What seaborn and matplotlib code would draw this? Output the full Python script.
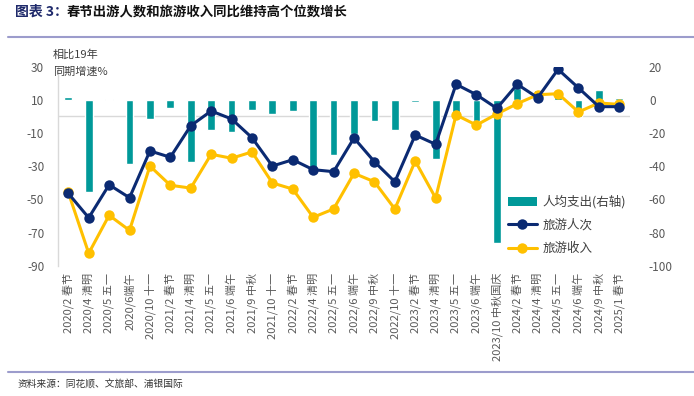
import matplotlib
matplotlib.use("Agg")
import matplotlib.pyplot as plt
import seaborn as sns
import pandas as pd
import numpy as np
from matplotlib.patches import Patch
from matplotlib.lines import Line2D

sns.set_theme(style="white")
plt.rcParams['font.family'] = ['Noto Sans CJK SC', 'DejaVu Sans']

categories = ["2020/2 春节", "2020/4 清明", "2020/5 五一", "2020/6端午", "2020/10 十一",
              "2021/2 春节", "2021/4 清明", "2021/5 五一", "2021/6 端午", "2021/9 中秋",
              "2021/10 十一", "2022/2 春节", "2022/4 清明", "2022/5 五一", "2022/6 端午",
              "2022/9 中秋", "2022/10 十一", "2023/2 春节", "2023/4 清明", "2023/5 五一",
              "2023/6 端午", "2023/10 中秋国庆", "2024/2 春节", "2024/4 清明", "2024/5 五一",
              "2024/6 端午", "2024/9 中秋", "2025/1 春节"]

spend_per_capita = [1.5, -55.3, 0.8, -38.4, -11.7, -5.0, -37.6, -18.3, -19.3, -6.4,
                    -8.8, -7.0, -42.0, -33.0, -20.5, -13.0, -18.0, -1.4, -35.6, -8.0,
                    -13.0, -86.5, 7.0, 6.0, 3.0, -10.5, 6.0, 1.4]

tourist_trips = [-46.4, -61.1, -41.2, -49.0, -20.8, -24.6, -5.6, 3.3, -1.5, -12.8,
                 -29.9, -26.1, -32.1, -33.3, -13.0, -27.3, -39.4, -11.2, -16.8, 19.4,
                 13.1, 4.9, 19.4, 11.3, 28.4, 17.2, 5.9, 5.9]

tourist_revenue = [-45.8, -82.5, -59.6, -68.7, -29.9, -41.5, -43.2, -22.8, -25.2, -21.4,
                   -40.1, -43.8, -60.8, -55.8, -34.3, -39.4, -55.8, -26.9, -49.2, 0.9,
                   -5.2, 1.5, 7.7, 13.1, 13.7, 2.7, 8.1, 7.3]

left_ticks = [30, 10, -10, -30, -50, -70, -90]
right_ticks = [20, 0, -20, -40, -60, -80, -100]

TEAL = "#009999"
NAVY = "#0b2a72"
GOLD = "#ffc000"
GRAY = "#595959"

df = pd.DataFrame({"idx": np.arange(len(categories)),
                   "spend": spend_per_capita,
                   "trips": tourist_trips,
                   "revenue": tourist_revenue})

fig = plt.figure(figsize=(6.94, 3.96), dpi=100)
ax = fig.add_axes([58.1 / 694, 1 - 265.7 / 396, 571.4 / 694, 199 / 396])
ax2 = ax.twinx()

# bars on right-scale axis (drawn underneath)
ax.axhline(-10, color="#d9d9d9", lw=1, zorder=0)
sns.barplot(data=df, x="idx", y="spend", color=TEAL, width=0.38, saturation=1,
            ax=ax, zorder=2)
ax.set_ylim(-100, 20)

# lines on left-scale axis
sns.lineplot(data=df, x="idx", y="trips", color=NAVY, lw=2.2, marker="o",
             markersize=7.5, markeredgewidth=0, ax=ax2, zorder=4)
sns.lineplot(data=df, x="idx", y="revenue", color=GOLD, lw=2.2, marker="o",
             markersize=7.5, markeredgewidth=0, ax=ax2, zorder=3)
ax2.set_ylim(-90, 30)

# axis placement: bars' scale on the right, lines' scale on the left
ax.yaxis.tick_right()
ax2.yaxis.tick_left()
ax.set_yticks(right_ticks)
ax.set_yticklabels([str(t) for t in right_ticks])
ax2.set_yticks(left_ticks)
ax2.set_yticklabels([str(t) for t in left_ticks])
ax.tick_params(axis="y", length=0, pad=14, labelsize=8.5, labelcolor=GRAY)
ax2.tick_params(axis="y", length=0, pad=10, labelsize=8.5, labelcolor=GRAY)
ax.set_xticks(range(len(categories)))
ax.set_xticklabels(categories, rotation=90, fontsize=8, color=GRAY)
ax.tick_params(axis="x", length=0, pad=5, labelbottom=True)
ax2.tick_params(axis="x", length=0, labelbottom=False)
ax.set_xlim(-0.5, len(categories) - 0.5)
for a in (ax, ax2):
    a.set_xlabel("")
    a.set_ylabel("")
    for s in a.spines.values():
        s.set_visible(False)
ax2.spines["left"].set_visible(True)
ax2.spines["left"].set_color("#d9d9d9")
ax2.spines["left"].set_linewidth(1)

# annotation
fig.text(53 / 694, 1 - 55 / 396, "相比19年", fontsize=8, color="#404040", va="center")
fig.text(53 / 694, 1 - 72 / 396, "同期增速%", fontsize=8, color="#404040", va="center")

# legend
handles = [Patch(facecolor=TEAL, edgecolor="none"),
           Line2D([], [], color=NAVY, lw=2.2, marker="o", markersize=7.5, markeredgewidth=0),
           Line2D([], [], color=GOLD, lw=2.2, marker="o", markersize=7.5, markeredgewidth=0)]
labels = ["人均支出(右轴)", "旅游人次", "旅游收入"]
fig.legend(handles, labels, loc="upper left", bbox_to_anchor=(508 / 694, 1 - 195 / 396),
           frameon=False, fontsize=9, handlelength=2.3, handletextpad=0.45,
           labelspacing=0.82, borderpad=0, borderaxespad=0, labelcolor="#404040")

# title and rules
fig.text(15 / 694, 1 - 12 / 396, "图表 3：", fontsize=10, fontweight="bold",
         color="#1f2a6b", va="center")
fig.text(67 / 694, 1 - 12 / 396, "春节出游人数和旅游收入同比维持高个位数增长", fontsize=9.6,
         fontweight="bold", color="#111111", va="center")
fig.add_artist(Line2D([8 / 694, 1], [1 - 37 / 396, 1 - 37 / 396], color="#9c9ccc", lw=1.5))
fig.add_artist(Line2D([8 / 694, 1], [1 - 372 / 396, 1 - 372 / 396], color="#9c9ccc", lw=1.5))
fig.text(18 / 694, 1 - 384 / 396, "资料来源：同花顺、文旅部、浦银国际", fontsize=7,
         color="#333333", va="center")

fig.savefig("out.png", dpi=100)
